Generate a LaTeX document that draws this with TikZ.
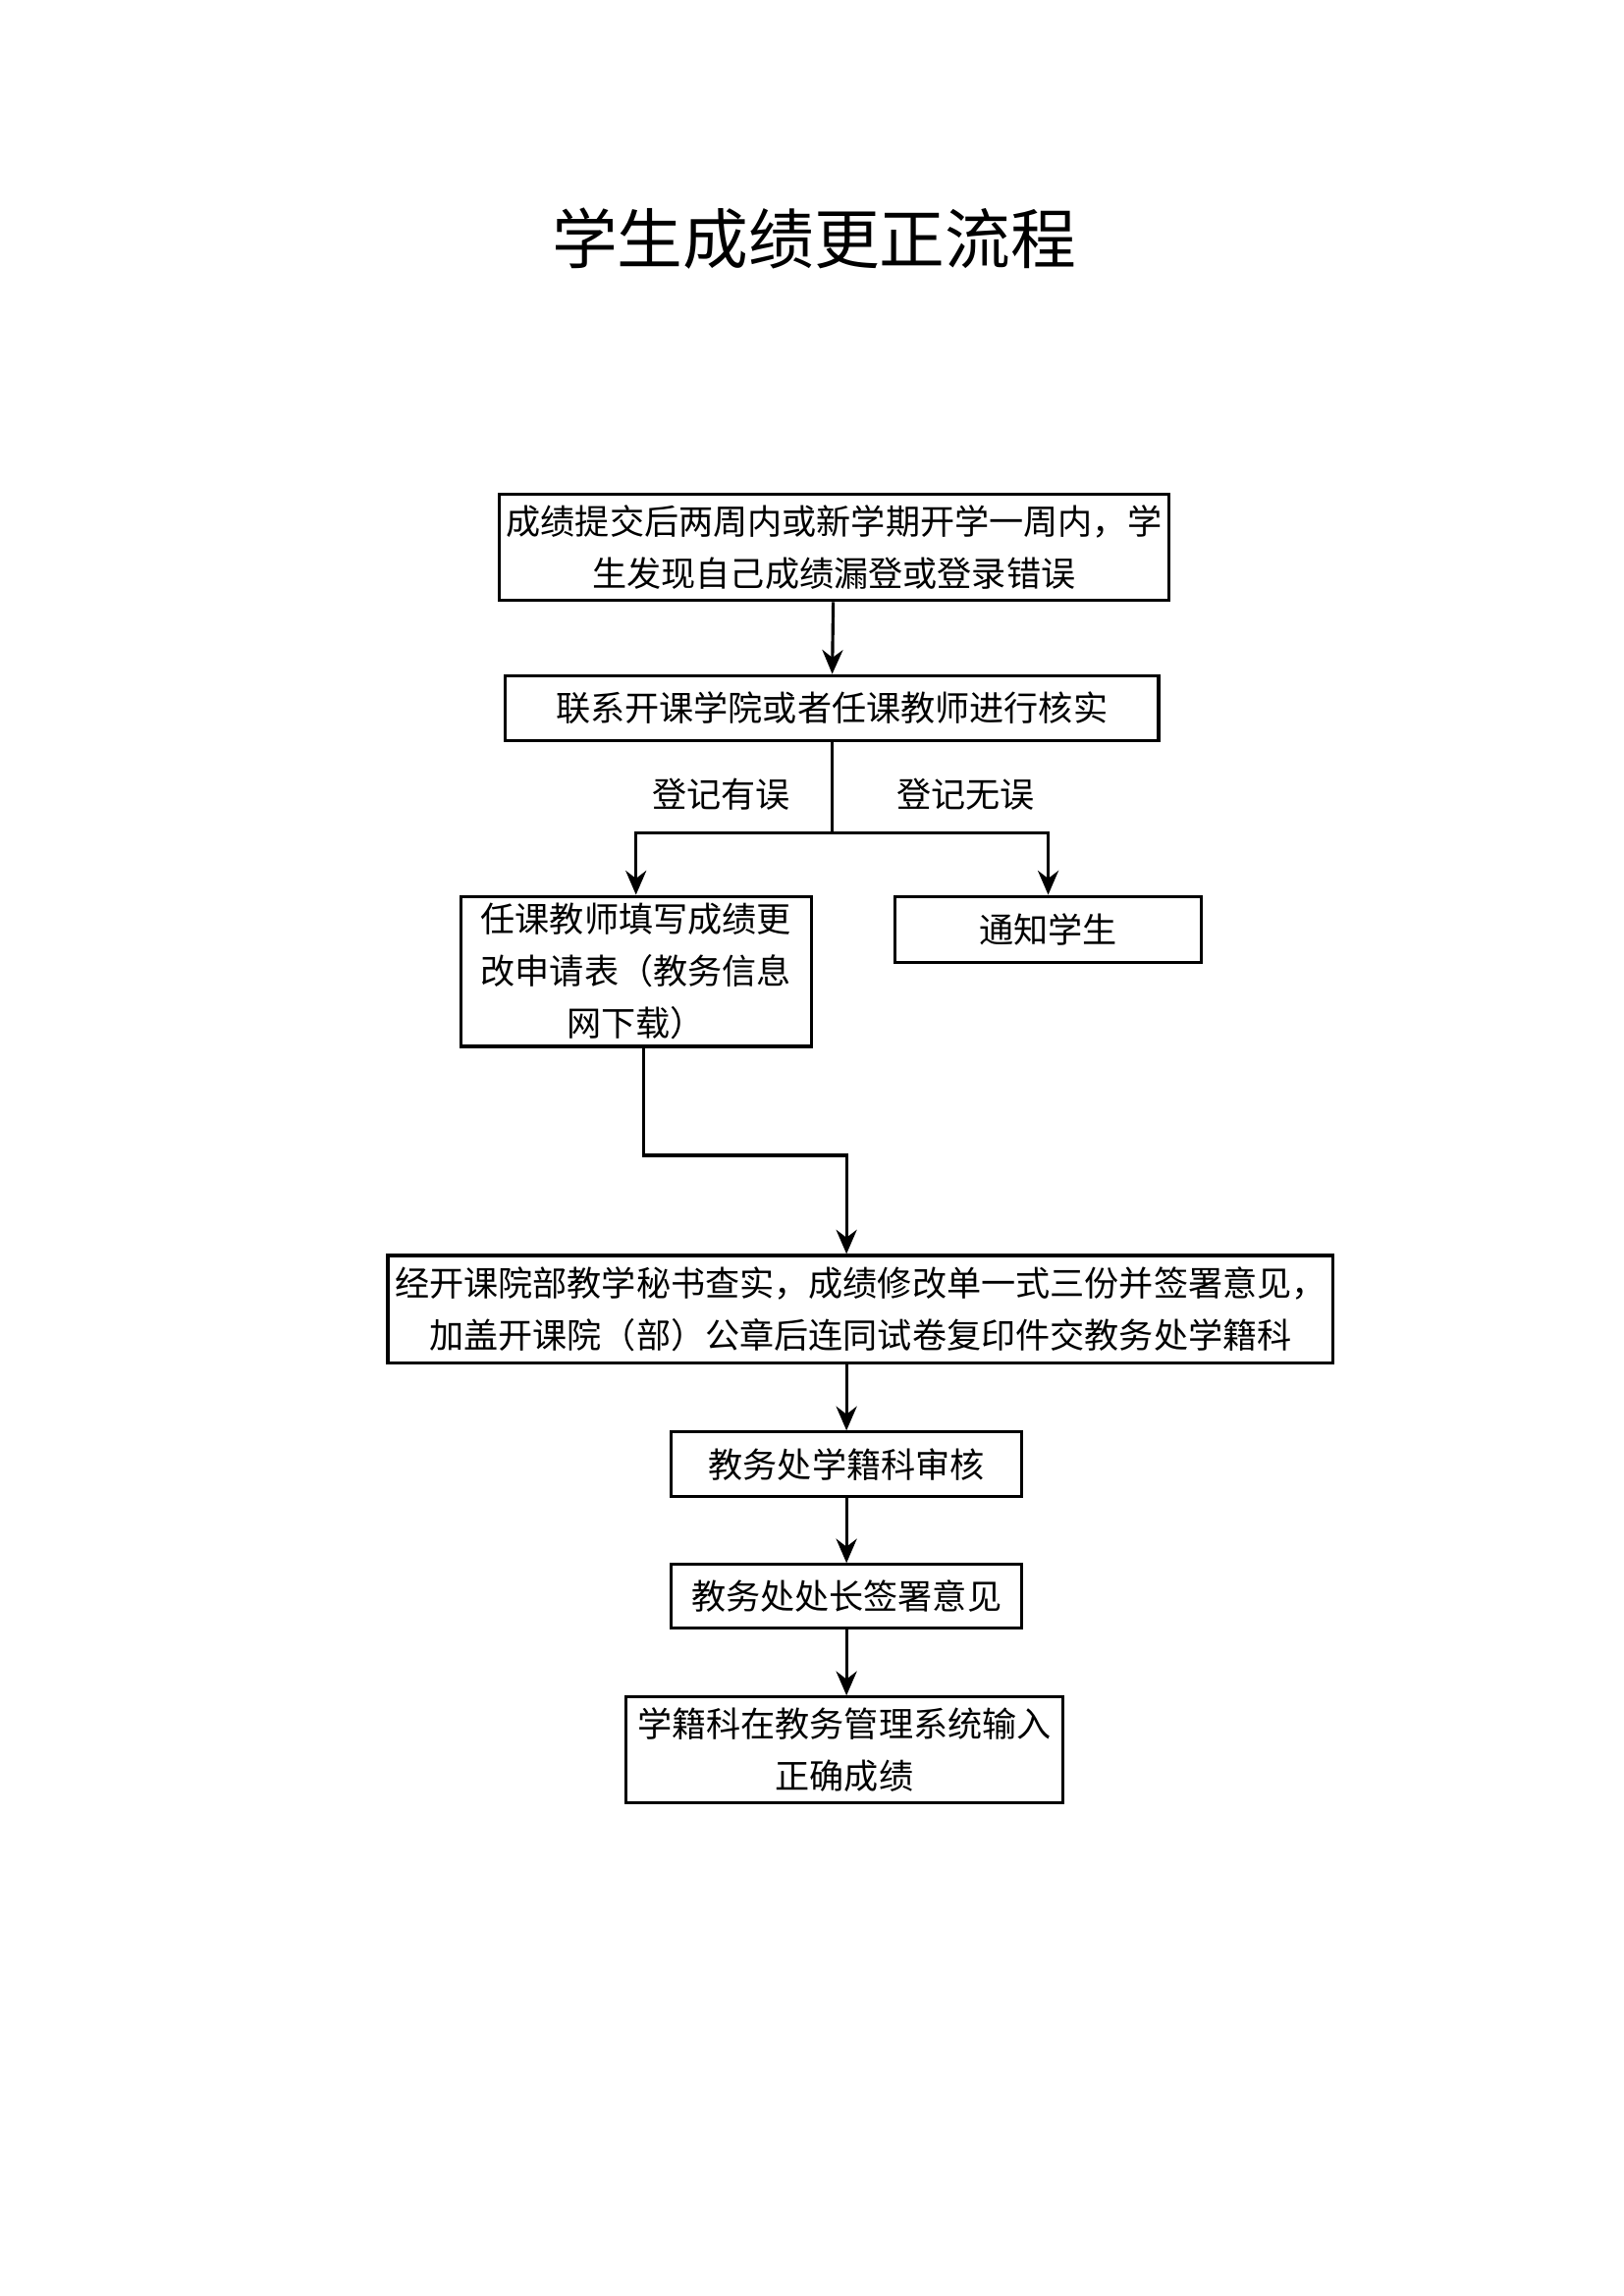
\documentclass[tikz,border=0pt]{standalone}
\usepackage{fontspec}
\usepackage{tikz}
\usetikzlibrary{positioning,arrows.meta}
\newfontfamily\cjk{Noto Sans CJK SC}

\tikzset{
    stepbox/.style = {draw, line width=0.9pt, align=center, inner sep=2pt,
                      font=\cjk\fontsize{10}{15}\selectfont},
    flow/.style = {line width=0.9pt, -{Stealth[length=7pt,width=6pt]}}
}

\begin{document}
\begin{tikzpicture}[x=0.015cm, y=-0.015cm]
    \useasboundingbox (0,0) rectangle (1103,1560);
    \node (title) at (553,162) {\cjk\fontsize{19}{22}\selectfont 学生成绩更正流程};

    \node[stepbox, minimum width=6.675cm, minimum height=1.08cm] (submit) at (566.5,372)
        {成绩提交后两周内或新学期开学一周内，学\\生发现自己成绩漏登或登录错误};
    \node[stepbox, minimum width=6.66cm, minimum height=0.66cm] (check) at (565,481)
        {联系开课学院或者任课教师进行核实};
    \node[stepbox, minimum width=3.57cm, minimum height=1.53cm] (apply) at (432,660)
        {任课教师填写成绩更\\改申请表（教务信息\\网下载）};
    \node[stepbox, minimum width=3.12cm, minimum height=0.675cm] (notify) at (712,631.5)
        {通知学生};
    \node[stepbox, minimum width=9.315cm, minimum height=1.095cm] (verify) at (584.5,889.5)
        {经开课院部教学秘书查实，成绩修改单一式三份并签署意见，\\加盖开课院（部）公章后连同试卷复印件交教务处学籍科};
    \node[stepbox, minimum width=3.57cm, minimum height=0.66cm] (audit) at (575,995)
        {教务处学籍科审核};
    \node[stepbox, minimum width=3.57cm, minimum height=0.645cm] (head) at (575,1084.5)
        {教务处处长签署意见};
    \node[stepbox, minimum width=4.455cm, minimum height=1.08cm] (enter) at (573.5,1189)
        {学籍科在教务管理系统输入\\正确成绩};

    % branch
    \coordinate (split) at (565,566);
    \coordinate (bend) at (437,785);
    \node[font=\cjk\fontsize{10}{12}\selectfont] (wrong) at (490,540) {登记有误};
    \node[font=\cjk\fontsize{10}{12}\selectfont] (right) at (656,540) {登记无误};

    \draw[flow] (submit) -- (check);
    \draw[line width=0.9pt] (check.south) -- (split);
    \draw[flow] (split) -| (apply.north);
    \draw[flow] (split) -| (notify.north);
    \draw[flow] (apply.south -| bend) -- (bend) -| (verify.north -| audit);
    \draw[flow] (verify.south -| audit) -- (audit);
    \draw[flow] (audit) -- (head);
    \draw[flow] (head) -- (enter.north -| head);
\end{tikzpicture}
\end{document}
